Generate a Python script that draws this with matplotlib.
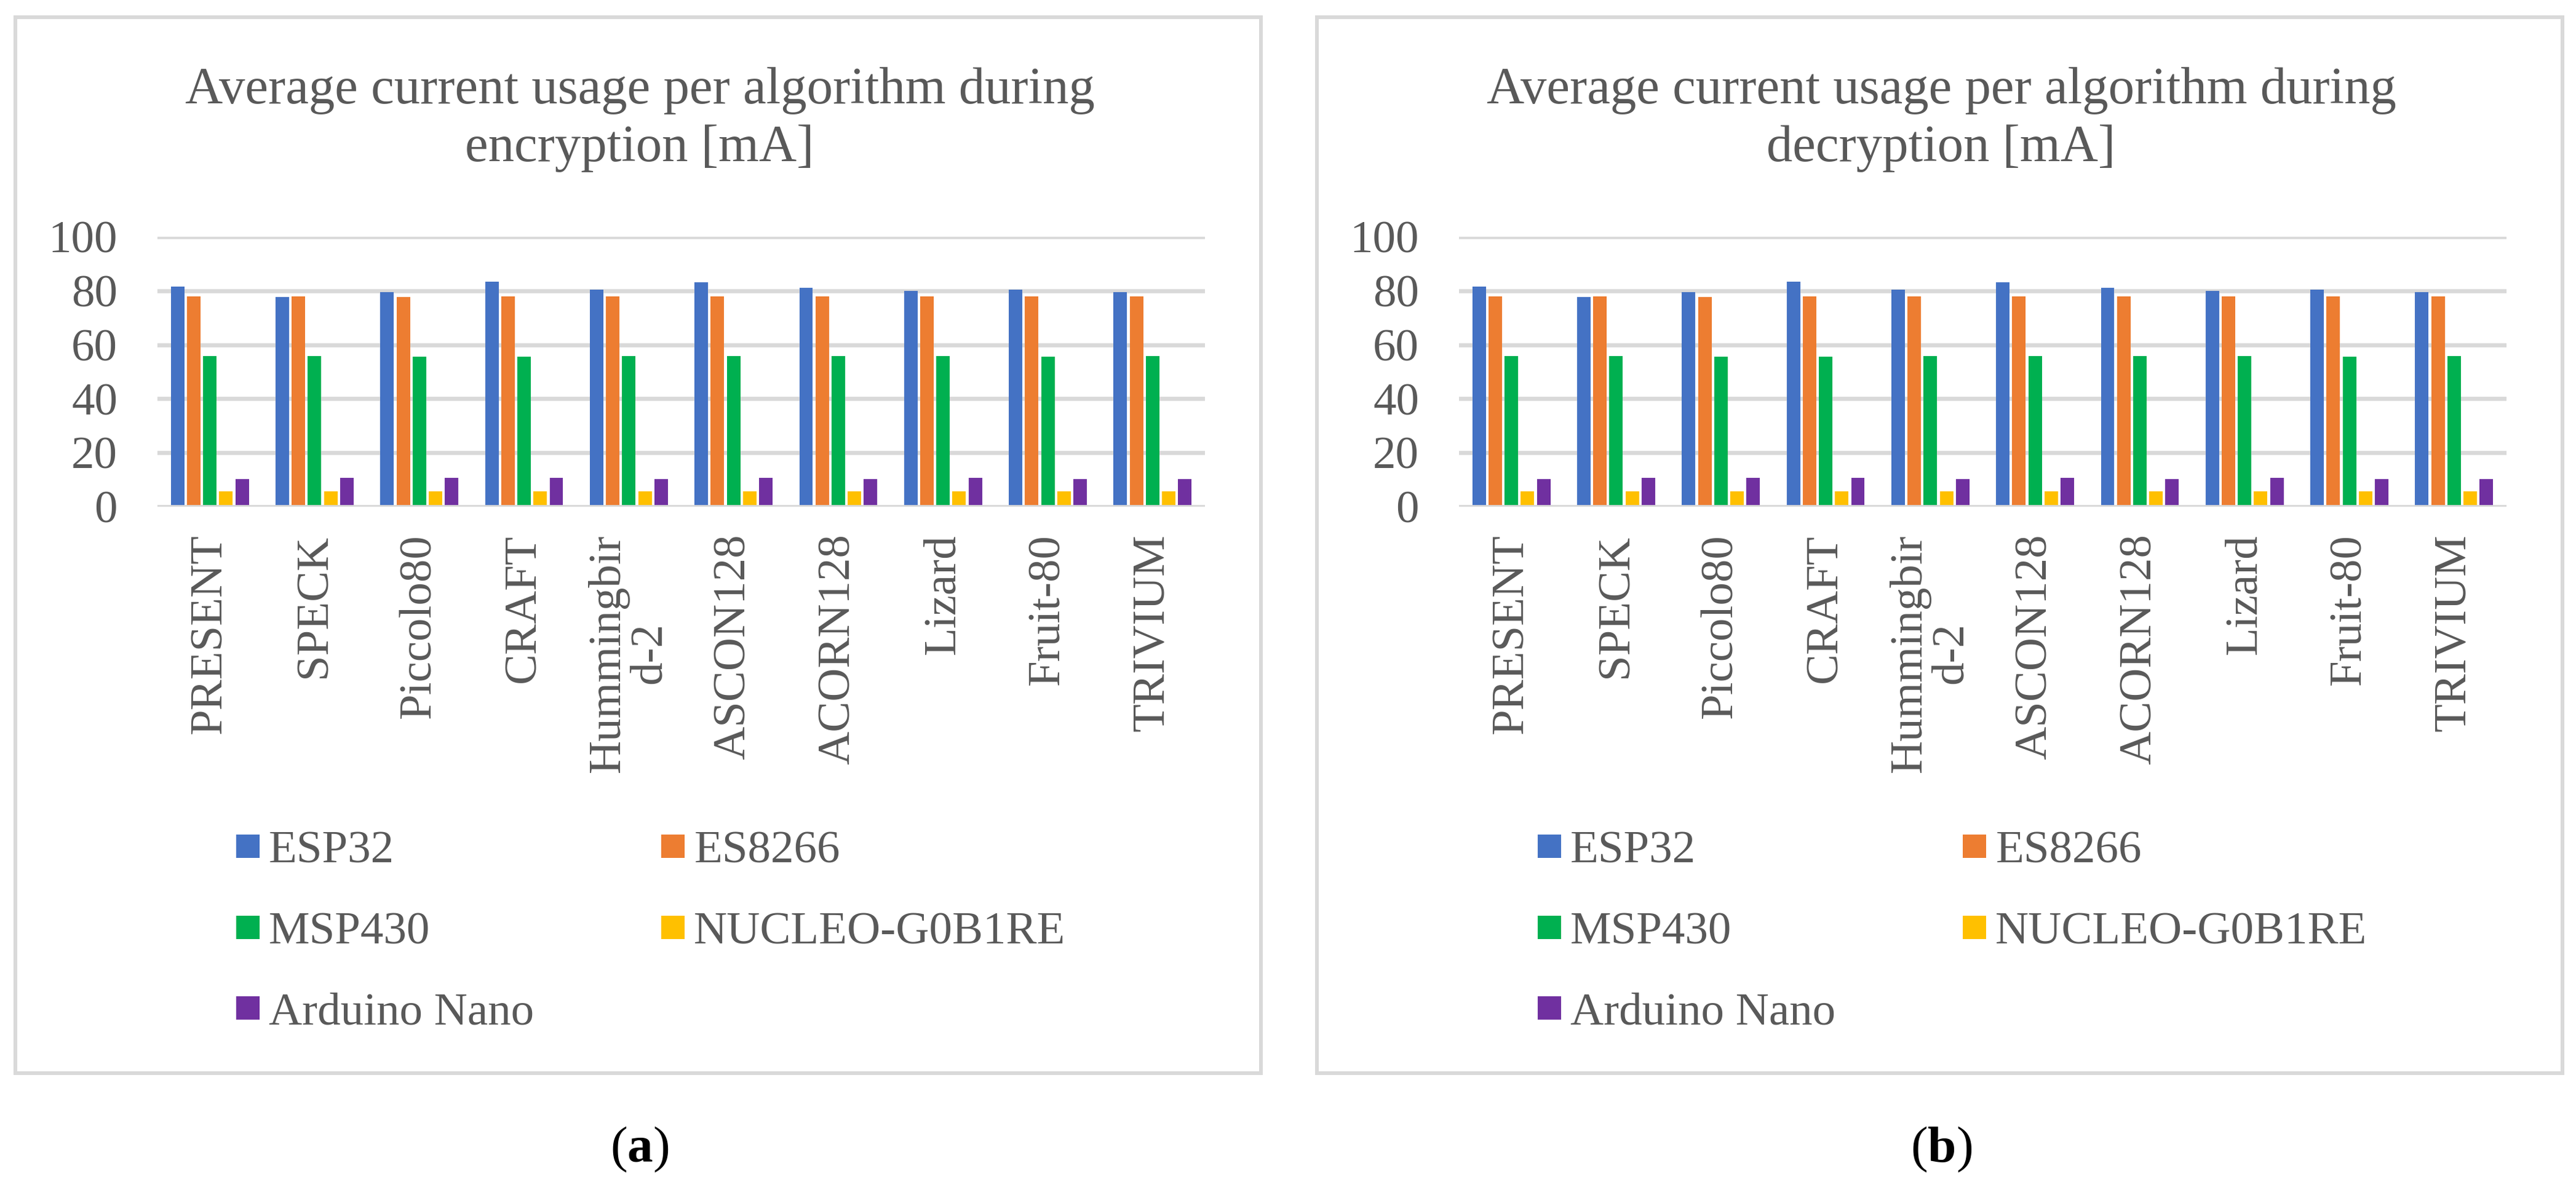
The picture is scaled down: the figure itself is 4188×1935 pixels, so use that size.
import matplotlib
matplotlib.use("Agg")
import numpy as np
from matplotlib import pyplot as plt
from matplotlib.lines import Line2D
from matplotlib.patches import Rectangle

# values (mA)
algorithms = ["PRESENT", "SPECK", "Piccolo80", "CRAFT", "Hummingbir\nd-2",
              "ASCON128", "ACORN128", "Lizard", "Fruit-80", "TRIVIUM"]
boards = ["ESP32", "ES8266", "MSP430", "NUCLEO-G0B1RE", "Arduino Nano"]
colors = ["#4472C4", "#ED7D31", "#00B050", "#FFC000", "#7030A0"]

enc_esp32 = [81.5, 77.6, 79.4, 83.3, 80.3, 83.1, 81.2, 79.9, 80.5, 79.4]
enc_es8266 = [77.8, 77.8, 77.6, 77.8, 78.0, 77.8, 77.8, 77.8, 78.0, 77.8]
enc_msp430 = [55.7, 55.7, 55.5, 55.5, 55.7, 55.7, 55.9, 55.7, 55.5, 55.7]
enc_nucleo = [5.8, 5.8, 5.8, 5.8, 5.8, 5.8, 5.8, 5.8, 5.8, 5.8]
enc_nano = [10.3, 10.8, 10.6, 10.6, 10.3, 10.8, 10.3, 10.6, 10.3, 10.3]

dec_esp32 = [81.5, 77.6, 79.4, 83.3, 80.3, 83.1, 81.2, 79.9, 80.5, 79.4]
dec_es8266 = [77.8, 77.8, 77.6, 77.8, 78.0, 77.8, 77.8, 77.8, 78.0, 77.8]
dec_msp430 = [55.7, 55.7, 55.5, 55.5, 55.7, 55.7, 55.9, 55.7, 55.5, 55.7]
dec_nucleo = [5.8, 5.8, 5.8, 5.8, 5.8, 5.8, 5.8, 5.8, 5.8, 5.8]
dec_nano = [10.3, 10.8, 10.8, 10.6, 10.3, 10.8, 10.3, 10.6, 10.3, 10.3]

enc = [enc_esp32, enc_es8266, enc_msp430, enc_nucleo, enc_nano]
dec = [dec_esp32, dec_es8266, dec_msp430, dec_nucleo, dec_nano]

plt.rcParams['font.family'] = ['Liberation Serif', 'DejaVu Serif']
plt.rcParams['mathtext.fontset'] = 'custom'
plt.rcParams['mathtext.rm'] = 'Liberation Serif'
plt.rcParams['mathtext.bf'] = 'Liberation Serif:bold'

W, H = 4188, 1935
TXT = "#595959"
GRID = "#D9D9D9"
FS = 54

fig = plt.figure(figsize=(W / 100, H / 100), dpi=100)


def px(x, y):
  # pixel position (from top-left) -> figure fraction
  return x / W, 1 - y / H


def panel(dx, series, title2, tag):
  # frame round the chart
  x0, y0 = px(25 + dx, 1745)
  fig.add_artist(Rectangle((x0, y0), 2025 / W, 1717 / H, transform=fig.transFigure,
                           fill=False, ec=GRID, lw=4.3))

  ax = fig.add_axes([(256 + dx) / W, 1 - 824 / H, 1703 / W, 439 / H])
  x = np.arange(len(algorithms))
  step, width = 0.154, 0.129
  handles = []
  for i, (name, vals, c) in enumerate(zip(boards, series, colors)):
    ax.bar(x + (i - 2) * step, vals, width, color=c, zorder=2)
    handles.append(Line2D([], [], ls="none", marker="s", markersize=27.4,
                          markerfacecolor=c, markeredgewidth=0, label=name))

  ax.set_xlim(-0.5, len(algorithms) - 0.5)
  ax.set_ylim(0, 100)
  ax.set_yticks([0, 20, 40, 60, 80, 100])
  ax.yaxis.grid(True, color=GRID, lw=4.8, zorder=0)
  ax.set_axisbelow(True)
  ax.axhline(0, color=GRID, lw=4.8, zorder=3)
  for s in ax.spines.values():
    s.set_visible(False)
  ax.tick_params(axis="y", length=0, pad=46.8, labelsize=FS, labelcolor=TXT)
  ax.tick_params(axis="x", length=0, pad=32, labelsize=FS, labelcolor=TXT)
  ax.set_xticks(x)
  ax.set_xticklabels(algorithms, rotation=90, ha="center", va="top",
                     multialignment="center", linespacing=1.0)

  # title, two lines centred over the chart area
  tx = (1040 + dx) / W
  fig.text(tx, 1 - 168 / H, "Average current usage per algorithm during",
           ha="center", va="baseline", fontsize=61, color=TXT)
  fig.text(tx, 1 - 262 / H, title2, ha="center", va="baseline",
           fontsize=61, color=TXT)

  # legend, filled row by row like the original
  order = [0, 2, 4, 1, 3]
  ax.legend([handles[k] for k in order], [boards[k] for k in order],
            ncol=2, loc="upper left", bbox_to_anchor=px(383 + dx, 1350),
            bbox_transform=fig.transFigure, frameon=False, borderpad=0,
            borderaxespad=0, handlelength=0.52, handleheight=0.7,
            handletextpad=0.2, columnspacing=2.75, labelspacing=0.84,
            fontsize=FS, labelcolor=TXT)

  fig.text((1040 + dx) / W, 1 - 1889 / H, "(" + r"$\mathbf{" + tag + "}$" + ")",
           ha="center", va="baseline", fontsize=60, color="black")
  return ax


panel(0, enc, "encryption [mA]", "a")
panel(2116, dec, "decryption [mA]", "b")

fig.savefig("out.png", dpi=100, facecolor="white")
